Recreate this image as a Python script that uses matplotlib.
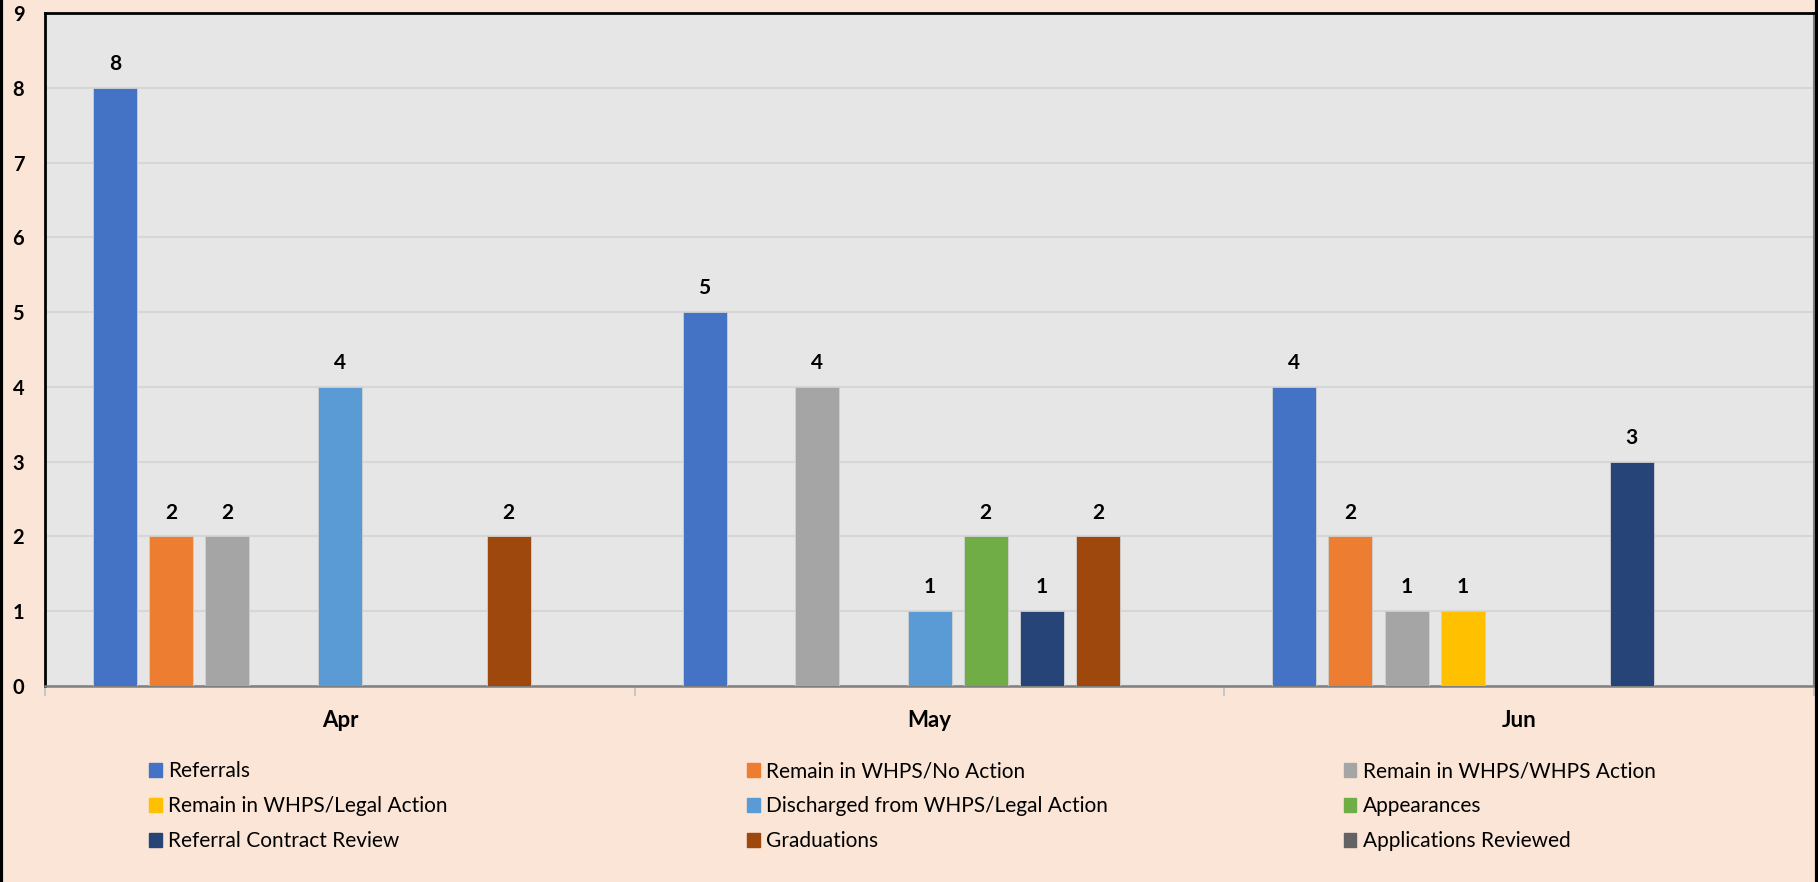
import numpy as np
import matplotlib.pyplot as plt
from matplotlib.lines import Line2D

plt.rcParams['font.family'] = ['Lato', 'DejaVu Sans']

# Monthly counts per activity
months = ["Apr", "May", "Jun"]
series_names = [
    "Referrals",
    "Remain in WHPS/No Action",
    "Remain in WHPS/WHPS Action",
    "Remain in WHPS/Legal Action",
    "Discharged from WHPS/Legal Action",
    "Appearances",
    "Referral Contract Review",
    "Graduations",
    "Applications Reviewed",
]
referrals = [8, 5, 4]
no_action = [2, 0, 2]
whps_action = [2, 4, 1]
legal_action = [0, 0, 1]
discharged = [4, 1, 0]
appearances = [0, 2, 0]
contract_review = [0, 1, 3]
graduations = [2, 2, 0]
apps_reviewed = [0, 0, 0]

series_values = [referrals, no_action, whps_action, legal_action, discharged,
                 appearances, contract_review, graduations, apps_reviewed]
colors = ["#4472C4", "#ED7D31", "#A5A5A5", "#FFC000", "#5B9BD5",
          "#70AD47", "#264478", "#9E480E", "#636363"]

fig = plt.figure(figsize=(18.18, 8.82), dpi=100, facecolor="#FBE5D6")
ax = fig.add_axes([0.0248, 0.2222, 0.9730, 0.7631])
ax.set_facecolor("#E7E6E6")

x = np.arange(len(months))
n = len(series_values)
slot = 0.0954
width = 0.0746

handles = []
for i, (vals, col) in enumerate(zip(series_values, colors)):
    pos = x + (i - (n - 1) / 2) * slot
    bars = ax.bar(pos, vals, width, color=col, edgecolor="#D0D0D0",
                  linewidth=0.6, zorder=3)
    for b, v in zip(bars, vals):
        if v > 0:
            ax.annotate(str(v), (b.get_x() + b.get_width() / 2, v),
                        xytext=(0, 10), textcoords="offset points",
                        ha="center", va="bottom", fontsize=15,
                        fontweight="bold", color="black")
    handles.append(plt.Rectangle((0, 0), 1, 1, color=col))

ax.set_xlim(-0.5, 2.5)
ax.set_ylim(0, 9)
ax.set_yticks(range(0, 10))
ax.yaxis.grid(True, color="#D6D6D6", linewidth=1.5, zorder=0)
ax.set_axisbelow(True)
ax.tick_params(axis="y", length=0, pad=15, labelsize=14.5)
for lbl in ax.get_yticklabels():
    lbl.set_fontweight("bold")

ax.set_xticks(x)
ax.set_xticklabels(months, fontsize=16, fontweight="bold")
ax.tick_params(axis="x", length=0, pad=17)
ax.set_xticks([-0.5, 0.5, 1.5, 2.5], minor=True)
ax.tick_params(axis="x", which="minor", length=7, color="#BFBFBF", width=1.2)

ax.spines["left"].set_color("black")
ax.spines["left"].set_linewidth(2)
ax.spines["top"].set_color("black")
ax.spines["top"].set_linewidth(2)
ax.spines["right"].set_color("#7F7F7F")
ax.spines["right"].set_linewidth(1.5)
ax.spines["bottom"].set_color("#7F7F7F")
ax.spines["bottom"].set_linewidth(1.8)

# Legend laid out row by row in three columns
col_x = [0.082, 0.411, 0.739]
for c in range(3):
    idx = [c, c + 3, c + 6]
    fig.legend([handles[k] for k in idx], [series_names[k] for k in idx],
               loc="upper left", bbox_to_anchor=(col_x[c], 0.137),
               frameon=False, borderpad=0, borderaxespad=0,
               fontsize=15, handlelength=0.62, handleheight=0.62,
               handletextpad=0.3, labelspacing=0.72)

# Dark side borders of the figure
fig.add_artist(Line2D([0.0008, 0.0008], [0, 1], color="black", linewidth=3,
                      transform=fig.transFigure))
fig.add_artist(Line2D([0.9992, 0.9992], [0, 1], color="black", linewidth=3,
                      transform=fig.transFigure))

fig.savefig("out.png", dpi=100, facecolor=fig.get_facecolor())
